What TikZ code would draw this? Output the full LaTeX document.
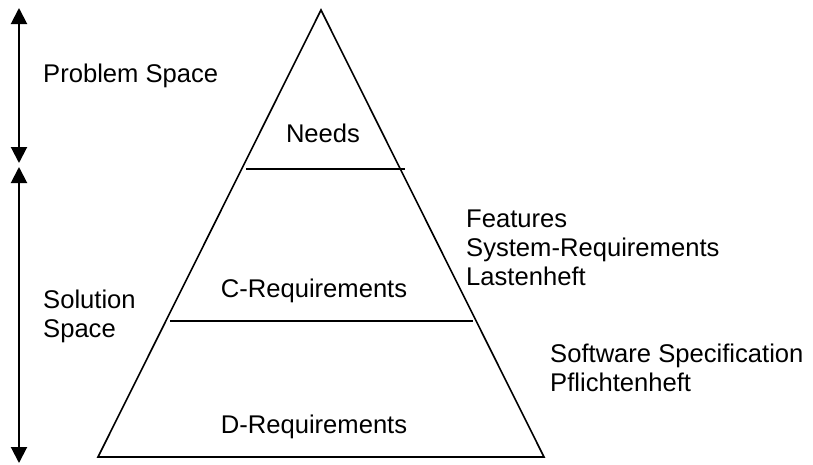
\documentclass[tikz,border=0pt]{standalone}
\usepackage{fontspec}
\setmainfont{Liberation Sans}
\usetikzlibrary{arrows.meta}
\begin{document}
\begin{tikzpicture}[x=1pt,y=-1pt,
  lbl/.style={font=\fontsize{25.6}{29}\selectfont,inner sep=0pt,align=left,anchor=base west},
  mid/.style={font=\fontsize{25.6}{29}\selectfont,inner sep=0pt,anchor=base},
  edge/.style={line width=1.6pt,line join=miter},
  band/.style={line width=2.6pt},
  span/.style={line width=2pt,{Triangle[length=16pt,width=16pt]}-{Triangle[length=16pt,width=16pt]}}]
\useasboundingbox (0,0) rectangle (813,464);

% pyramid outline
\coordinate (apex) at (321,10);
\coordinate (bl) at (98,457);
\coordinate (br) at (544,457);
\draw[edge] (bl) -- (apex) -- (br) -- cycle;

% level separators
\coordinate (n1) at (246,169);
\coordinate (n2) at (405,169);
\coordinate (c1) at (170,321);
\coordinate (c2) at (473,321);
\draw[band] (n1) -- (n2);
\draw[band] (c1) -- (c2);

% space arrows on the left
\coordinate (pTop) at (19,8);
\coordinate (pBot) at (19,163);
\coordinate (sTop) at (19,167);
\coordinate (sBot) at (19,463);
\draw[span] (pTop) -- (pBot);
\draw[span] (sTop) -- (sBot);

% level names
\node[mid] (needs) at (323,142) {Needs};
\node[mid] (creq) at (314,297) {C-Requirements};
\node[mid] (dreq) at (314,433) {D-Requirements};

% side labels (base anchor sits on the last line)
\node[lbl] (prob) at (43,82) {Problem Space};
\node[lbl] (sol) at (43,337) {Solution\\Space};
\node[lbl] (feat) at (466,285) {Features\\System-Requirements\\Lastenheft};
\node[lbl] (soft) at (550,391) {Software Specification\\Pflichtenheft};
\end{tikzpicture}
\end{document}
